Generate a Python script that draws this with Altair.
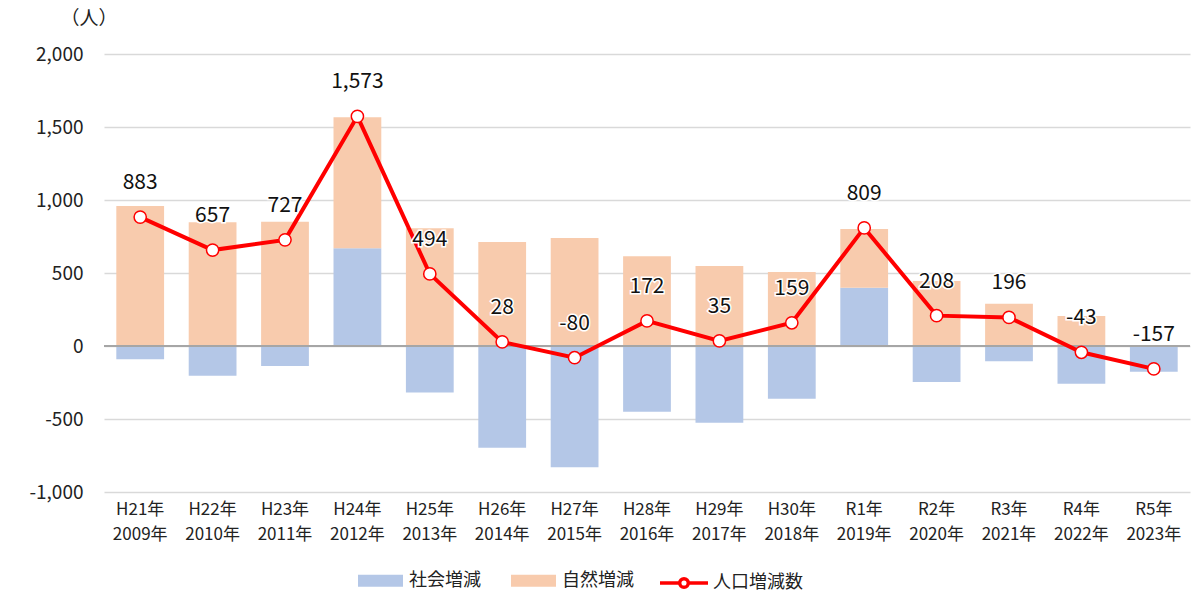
import altair as alt
import pandas as pd

era = ["H21年", "H22年", "H23年", "H24年", "H25年", "H26年", "H27年", "H28年",
       "H29年", "H30年", "R1年", "R2年", "R3年", "R4年", "R5年"]
year = ["2009年", "2010年", "2011年", "2012年", "2013年", "2014年", "2015年", "2016年",
        "2017年", "2018年", "2019年", "2020年", "2021年", "2022年", "2023年"]
social = [-91, -203, -137, 669, -318, -697, -831, -450, -525, -361, 399, -247, -105, -258, -176]
natural = [959, 847, 851, 897, 806, 712, 740, 614, 548, 507, 402, 445, 290, 205, 5]
total = [883, 657, 727, 1573, 494, 28, -80, 172, 35, 159, 809, 208, 196, -43, -157]

FONT = "Noto Sans CJK JP"
cats = [f"{e}|{y}" for e, y in zip(era, year)]

rows = []
for c, s, n in zip(cats, social, natural):
    rows.append({"cat": c, "series": "社会増減", "ord": 0, "value": s})
    rows.append({"cat": c, "series": "自然増減", "ord": 1, "value": n})
df_bars = pd.DataFrame(rows)
df_tot = pd.DataFrame({"cat": cats, "total": total, "name": ["人口増減数"] * len(cats)})

xenc = alt.X("cat:N", sort=cats,
             scale=alt.Scale(paddingInner=0.34, paddingOuter=0.17),
             axis=alt.Axis(title=None, labelAngle=0, ticks=False, domain=False, grid=False,
                           labelExpr="split(datum.value, '|')", labelFontSize=17,
                           labelFont=FONT, labelColor="#222222", labelLineHeight=25,
                           labelPadding=9))

yscale = alt.Scale(domain=[-1000, 2000], nice=False)

bars = alt.Chart(df_bars).mark_bar().encode(
    x=xenc,
    y=alt.Y("value:Q", stack="zero", scale=yscale,
            axis=alt.Axis(values=[-1000, -500, 0, 500, 1000, 1500, 2000],
                          labelExpr="replace(format(datum.value, ',d'), '\u2212', '-')",
                          title="（人）", titleAngle=0, titleX=-44, titleY=-36,
                          titleAlign="left", titleBaseline="middle", titleFontSize=19,
                          titleFontWeight="normal", titleFont=FONT, titleColor="#222222",
                          labelFontSize=19, labelFont=FONT, labelColor="#222222",
                          labelPadding=21, ticks=False, domain=False,
                          gridColor="#d9d9d9", gridWidth=1.5)),
    color=alt.Color("series:N",
                    scale=alt.Scale(domain=["社会増減", "自然増減"], range=["#b4c7e7", "#f8cbad"]),
                    legend=alt.Legend(title=None, orient="none", legendX=254, legendY=504,
                                      direction="horizontal", padding=0,
                                      symbolType="M-1,-0.27L1,-0.27L1,0.27L-1,0.27Z",
                                      symbolSize=2025, symbolStrokeWidth=0,
                                      labelFontSize=18, labelFont=FONT, labelColor="#222222",
                                      labelOffset=6, columnPadding=30)),
    order=alt.Order("ord:Q"),
)

zero = alt.Chart(df_tot).mark_rule(color="#a6a6a6", strokeWidth=1.5).encode(y=alt.datum(0))

line = alt.Chart(df_tot).mark_line(strokeWidth=4).encode(
    x=alt.X("cat:N", sort=cats),
    y=alt.Y("total:Q", scale=yscale),
    stroke=alt.Stroke("name:N", scale=alt.Scale(domain=["人口増減数"], range=["#ff0000"]),
                      legend=alt.Legend(title=None, orient="none", legendX=554, legendY=503,
                                        padding=0,
                                        symbolType="M-1,0L-0.18,0M0.18,0L1,0M-0.18,0A0.18,0.18,0,1,1,0.18,0A0.18,0.18,0,1,1,-0.18,0Z",
                                        symbolSize=2304, symbolStrokeWidth=3.5,
                                        symbolStrokeColor="#ff0000", symbolFillColor="white",
                                        labelFontSize=18, labelFont=FONT, labelColor="#222222",
                                        labelOffset=3)),
)

pts = alt.Chart(df_tot).mark_point(filled=True, fill="white", stroke="#ff0000",
                                   strokeWidth=1.5, size=150, opacity=1).encode(
    x=alt.X("cat:N", sort=cats),
    y=alt.Y("total:Q", scale=yscale),
)

base_txt = alt.Chart(df_tot).transform_calculate(
    lbl="replace(format(datum.total, ','), '\u2212', '-')"
)
halo = base_txt.mark_text(dy=-34, fontSize=21, font=FONT, stroke="white",
                          strokeWidth=3, fill="white").encode(
    x=alt.X("cat:N", sort=cats),
    y=alt.Y("total:Q", scale=yscale),
    text="lbl:N",
)
labels = base_txt.mark_text(dy=-34, fontSize=21, font=FONT, color="#111111").encode(
    x=alt.X("cat:N", sort=cats),
    y=alt.Y("total:Q", scale=yscale),
    text="lbl:N",
)

chart = alt.layer(bars, zero, line, pts, halo, labels).resolve_legend(
    color="independent", stroke="independent"
).properties(
    width=1086, height=438,
    background="white",
    padding={"left": 104, "top": 54, "right": 4, "bottom": 100},
    autosize=alt.AutoSizeParams(type="none"),
).configure_view(stroke=None)

chart.save("out.html", embed_options={"renderer": "svg", "actions": False})
